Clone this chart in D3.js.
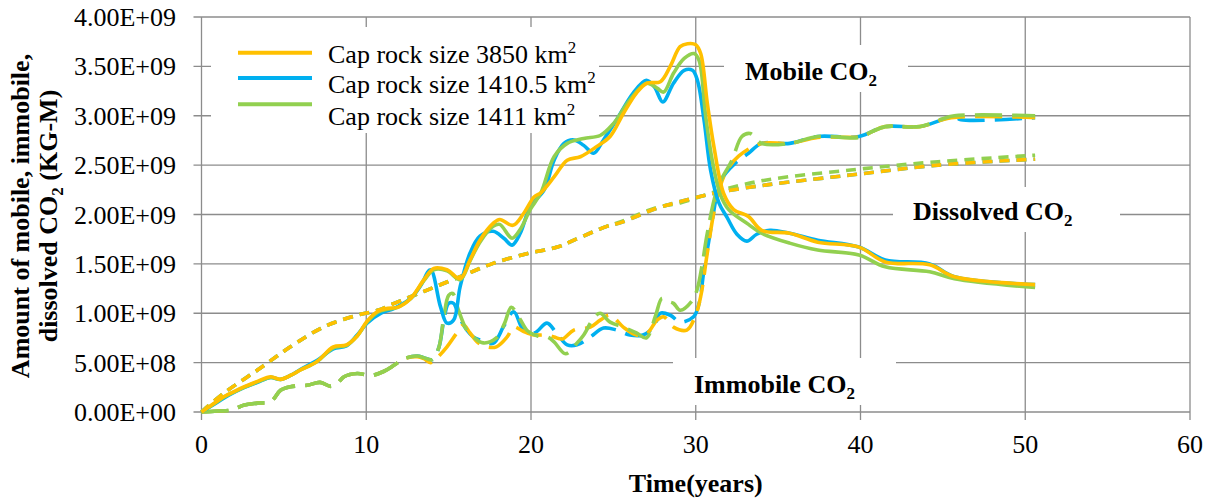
<!DOCTYPE html>
<html>
<head>
<meta charset="utf-8">
<script src="https://cdn.jsdelivr.net/npm/d3@7"></script>
<style>
  html, body { margin: 0; padding: 0; background: #fff; }
  svg { display: block; font-family: "Liberation Serif", "Times New Roman", serif; }
</style>
</head>
<body>
<svg id="chart" width="1214" height="501"></svg>
<script>
// ---- data: [time in years, amount in 1e9 KG-M] ----
const xTickValues = [0, 10, 20, 30, 40, 50, 60];
const yTickValues = [0, 0.5, 1, 1.5, 2, 2.5, 3, 3.5, 4];
const seriesLabels = ["Cap rock size 3850 km", "Cap rock size 1410.5 km", "Cap rock size 1411 km"];
const seriesColors = ["#FFC000", "#00B0F0", "#92D050"];

const mobile3850 = [[0,0],[0.7,0.08],[1.35,0.155],[2,0.21],[2.6,0.256],[3.4,0.31],[4.2,0.357],[4.8,0.33],[5.4,0.37],[6,0.425],[7,0.51],[8,0.66],[8.8,0.68],[9.45,0.77],[10.05,0.92],[10.7,1.02],[11.3,1.05],[11.9,1.06],[12.7,1.15],[13.5,1.34],[14.1,1.455],[14.9,1.44],[15.7,1.35],[16.3,1.54],[16.9,1.74],[17.7,1.91],[18.1,1.95],[18.9,1.89],[19.55,2.01],[20.2,2.18],[20.6,2.22],[21.4,2.38],[22.2,2.55],[23,2.585],[24,2.69],[24.8,2.79],[25.6,3.02],[26.4,3.23],[27.05,3.33],[27.85,3.345],[28.45,3.5],[29.05,3.7],[29.5,3.73],[30,3.72],[30.3,3.63],[30.7,3.13],[31.1,2.69],[31.7,2.21],[32.3,2.05],[33.2,1.98],[34,1.84],[35.7,1.81],[37.4,1.72],[39.9,1.67],[41.5,1.52],[44.2,1.49],[45.7,1.37],[50.6,1.29]];
const mobile1410 = [[0,0],[0.7,0.07],[1.35,0.14],[2,0.2],[2.6,0.25],[3.4,0.3],[4.2,0.35],[4.8,0.33],[5.4,0.37],[6,0.43],[7,0.52],[8,0.64],[8.8,0.67],[9.45,0.78],[10.05,0.9],[10.9,1.0],[11.7,1.05],[12.7,1.15],[13.3,1.28],[13.9,1.44],[14.5,1.07],[14.9,0.9],[15.3,0.93],[15.7,1.27],[16.3,1.61],[16.9,1.78],[17.7,1.83],[18.35,1.76],[18.85,1.69],[19.35,1.81],[19.95,2.08],[20.8,2.25],[21.4,2.55],[22,2.72],[22.6,2.755],[23.2,2.7],[23.8,2.62],[24.4,2.755],[25.2,2.96],[26.2,3.23],[27,3.36],[27.5,3.29],[28,3.14],[28.65,3.33],[29.3,3.46],[29.8,3.46],[30.1,3.36],[30.5,2.96],[30.9,2.45],[31.4,2.12],[31.9,1.97],[32.5,1.8],[33.1,1.73],[33.7,1.8],[34.5,1.84],[35.7,1.81],[37.4,1.74],[39.9,1.67],[41.5,1.54],[44.2,1.5],[45.7,1.37],[50.6,1.29]];
const mobile1411 = [[0,0],[0.7,0.075],[1.35,0.15],[2,0.205],[2.6,0.25],[3.4,0.305],[4.2,0.35],[4.8,0.33],[5.4,0.37],[6,0.425],[7,0.51],[8,0.65],[8.8,0.675],[9.45,0.77],[10.05,0.91],[10.7,1.01],[11.3,1.04],[11.9,1.06],[12.7,1.15],[13.5,1.33],[14.1,1.44],[14.9,1.43],[15.7,1.34],[16.3,1.53],[16.9,1.72],[17.7,1.88],[18.1,1.9],[18.85,1.76],[19.35,1.85],[19.95,2.05],[20.6,2.22],[21.4,2.585],[22.2,2.72],[23.2,2.77],[24.2,2.8],[25,2.92],[26,3.16],[27,3.33],[27.65,3.28],[28.05,3.24],[28.65,3.43],[29.3,3.58],[29.9,3.63],[30.2,3.56],[30.6,3.0],[31,2.55],[31.5,2.2],[32,2.05],[33.2,1.9],[34,1.81],[35.7,1.71],[37.4,1.64],[39.9,1.59],[41.5,1.47],[44.2,1.42],[45.7,1.35],[50.6,1.26]];

const immobile3850 = [[0,0],[1,0.01],[1.8,0.02],[2.6,0.07],[3.4,0.09],[4.2,0.105],[4.8,0.22],[5.4,0.256],[6.4,0.27],[7.2,0.3],[7.85,0.26],[8.25,0.29],[8.65,0.357],[9.45,0.39],[10.3,0.37],[11.05,0.41],[11.7,0.475],[12.3,0.54],[13.1,0.56],[13.5,0.54],[13.9,0.5],[14.3,0.55],[14.9,0.66],[15.5,0.8],[15.9,0.88],[16.3,0.8],[16.8,0.7],[17.3,0.66],[17.9,0.66],[18.55,0.76],[18.95,0.86],[19.5,0.82],[20.2,0.78],[21,0.78],[21.4,0.76],[21.9,0.74],[22.6,0.83],[23.6,0.86],[24.2,0.93],[24.8,0.98],[25.6,0.86],[26.4,0.78],[27,0.79],[27.65,0.93],[28.05,0.965],[28.65,0.86],[29.46,0.83],[29.96,0.965],[30.3,1.17],[30.7,1.61],[31.2,2.1],[31.8,2.42],[32.6,2.59],[34,2.72],[35.7,2.72],[37.4,2.78],[40.1,2.79],[40.7,2.84],[41.5,2.89],[43.6,2.89],[45.5,2.98],[50.6,2.98]];
const immobile1410 = [[0,0],[1,0.01],[1.8,0.02],[2.6,0.07],[3.4,0.09],[4.2,0.105],[4.8,0.22],[5.4,0.256],[6.4,0.27],[7.2,0.3],[7.85,0.26],[8.25,0.29],[8.65,0.357],[9.45,0.39],[10.3,0.37],[11.05,0.41],[11.7,0.475],[12.3,0.54],[13.1,0.567],[13.5,0.55],[14,0.53],[14.4,0.65],[14.7,0.92],[15,1.1],[15.3,1.1],[15.6,0.98],[16.1,0.83],[16.5,0.76],[16.9,0.73],[17.7,0.695],[18.35,0.87],[18.95,1.015],[19.55,0.83],[20.2,0.8],[20.97,0.9],[21.5,0.81],[22.2,0.68],[22.8,0.68],[23.6,0.76],[24.4,0.85],[25.2,0.83],[26,0.78],[26.8,0.78],[27.45,0.86],[27.85,1.0],[28.46,0.98],[29.06,0.91],[29.87,0.965],[30.2,1.1],[30.5,1.44],[30.8,1.74],[31,1.94],[31.55,2.35],[32.4,2.52],[33.2,2.62],[34,2.72],[35.7,2.72],[37.4,2.79],[39.9,2.79],[41.5,2.89],[43.6,2.89],[45.7,2.99],[46.1,2.96],[50.6,2.98]];
const immobile1411 = [[0,0],[1,0.01],[1.8,0.02],[2.6,0.07],[3.4,0.09],[4.2,0.105],[4.8,0.22],[5.4,0.256],[6.4,0.27],[7.2,0.3],[7.85,0.26],[8.25,0.29],[8.65,0.357],[9.45,0.39],[10.3,0.37],[11.05,0.41],[11.7,0.475],[12.3,0.54],[13.1,0.567],[13.5,0.55],[14,0.53],[14.4,0.65],[14.7,0.95],[15,1.18],[15.25,1.2],[15.6,1.03],[16.1,0.83],[16.5,0.76],[17.1,0.7],[17.9,0.75],[18.4,0.9],[18.8,1.06],[19.3,0.95],[19.8,0.82],[20.4,0.77],[21,0.76],[21.4,0.71],[22.1,0.59],[22.8,0.7],[23.2,0.78],[23.8,0.95],[24.2,1.0],[24.8,0.91],[25.6,0.86],[26.4,0.8],[27,0.75],[27.55,0.97],[27.95,1.15],[28.3,1.12],[28.65,1.1],[29.05,1.03],[29.8,1.13],[30.1,1.25],[30.4,1.5],[30.7,1.81],[31.35,2.28],[32.2,2.55],[32.8,2.79],[33.3,2.82],[34,2.72],[35.7,2.72],[37.4,2.79],[39.9,2.78],[40.7,2.84],[41.5,2.89],[43.6,2.89],[45,2.97],[45.7,3.0],[50.6,3.0]];

const dissolved3850 = [[0,0],[1.35,0.19],[3.4,0.425],[5.4,0.66],[7.4,0.86],[9.45,0.98],[10.7,1.03],[11.7,1.1],[13.7,1.235],[15.7,1.37],[17.7,1.505],[19.8,1.605],[21.6,1.67],[22.6,1.74],[24.6,1.88],[25.5,1.92],[27.6,2.06],[29.7,2.16],[31.6,2.23],[34.3,2.3],[39.4,2.4],[44.7,2.5],[50.6,2.56]];
const dissolved1410 = [[0,0],[1.35,0.19],[3.4,0.425],[5.4,0.66],[7.4,0.86],[9.45,0.98],[10.7,1.03],[11.7,1.1],[13.7,1.235],[15.7,1.37],[17.7,1.505],[19.8,1.605],[21.6,1.67],[22.6,1.74],[24.6,1.88],[25.5,1.92],[27.6,2.06],[29.7,2.16],[31.6,2.23],[34.3,2.3],[39.4,2.4],[44.7,2.5],[50.6,2.56]];
const dissolved1411 = [[0,0],[1.35,0.19],[3.4,0.425],[5.4,0.66],[7.4,0.86],[9.45,0.98],[10.7,1.03],[11.7,1.1],[13.7,1.235],[15.7,1.37],[17.7,1.505],[19.8,1.605],[21.6,1.67],[22.6,1.74],[24.6,1.88],[25.5,1.93],[27.6,2.07],[29.1,2.12],[31.6,2.25],[34.3,2.35],[39.4,2.45],[44.7,2.535],[50.6,2.6]];

// ---- layout ----
const svg = d3.select("#chart");
const x = d3.scaleLinear().domain([0, 60]).range([201.5, 1190]);
const y = d3.scaleLinear().domain([0, 4]).range([412, 17]);
const gridColor = "#8c8c8c";
const FONT = 26;

function expLabel(v) {
  return (v * 1e9).toExponential(2).replace(/e([+-])(\d+)/, (m, s, d) => "E" + s + d.padStart(2, "0"));
}

// gridlines with outside tick marks
const gGrid = svg.append("g").attr("stroke", gridColor).attr("stroke-width", 1.3);
gGrid.selectAll("line.h").data(yTickValues).join("line")
  .attr("class", "h")
  .attr("x1", x(0) - 8).attr("x2", x(60))
  .attr("y1", d => y(d)).attr("y2", d => y(d));
gGrid.selectAll("line.v").data(xTickValues).join("line")
  .attr("class", "v")
  .attr("x1", d => x(d)).attr("x2", d => x(d))
  .attr("y1", y(4)).attr("y2", y(0) + 8);

// white boxes behind the legend and the annotations
const boxes = [
  [211, 27, 388, 106],
  [724, 45, 184, 47],
  [893, 187, 227, 45],
  [673, 358, 223, 47]
];
svg.append("g").selectAll("rect").data(boxes).join("rect")
  .attr("x", d => d[0]).attr("y", d => d[1])
  .attr("width", d => d[2]).attr("height", d => d[3])
  .attr("fill", "#fff");

// axis tick labels
svg.append("g").selectAll("text").data(yTickValues).join("text")
  .attr("x", 176).attr("y", d => y(d) + 9)
  .attr("text-anchor", "end").attr("font-size", FONT).attr("fill", "#000")
  .text(expLabel);
svg.append("g").selectAll("text").data(xTickValues).join("text")
  .attr("x", d => x(d)).attr("y", 453)
  .attr("text-anchor", "middle").attr("font-size", FONT).attr("fill", "#000")
  .text(d => d);

// axis titles
svg.append("text")
  .attr("x", (x(0) + x(60)) / 2).attr("y", 492)
  .attr("text-anchor", "middle").attr("font-size", FONT).attr("font-weight", "bold")
  .text("Time(years)");
svg.append("text")
  .attr("transform", "translate(29,216) rotate(-90)")
  .attr("text-anchor", "middle").attr("font-size", FONT).attr("font-weight", "bold")
  .text("Amount of mobile, immobile,");
const yt2 = svg.append("text")
  .attr("transform", "translate(57,216) rotate(-90)")
  .attr("text-anchor", "middle").attr("font-size", FONT).attr("font-weight", "bold");
yt2.append("tspan").text("dissolved CO");
yt2.append("tspan").attr("font-size", 17).attr("dy", 6).text("2");
yt2.append("tspan").attr("dy", -6).text(" (KG-M)");

// series
const line = d3.line()
  .x(d => x(d[0])).y(d => y(d[1]))
  .curve(d3.curveCatmullRom.alpha(0.5));

const layers = [
  { data: dissolved1410, color: seriesColors[1], dash: "10,7" },
  { data: dissolved1411, color: seriesColors[2], dash: "10,7" },
  { data: dissolved3850, color: seriesColors[0], dash: "10,7" },
  { data: immobile1410, color: seriesColors[1], dash: "27,10" },
  { data: immobile3850, color: seriesColors[0], dash: "27,10" },
  { data: immobile1411, color: seriesColors[2], dash: "27,10" },
  { data: mobile1410, color: seriesColors[1], dash: null },
  { data: mobile1411, color: seriesColors[2], dash: null },
  { data: mobile3850, color: seriesColors[0], dash: null }
];
svg.append("g").selectAll("path").data(layers).join("path")
  .attr("d", d => line(d.data))
  .attr("fill", "none")
  .attr("stroke", d => d.color)
  .attr("stroke-width", 3.6)
  .attr("stroke-linejoin", "round")
  .attr("stroke-dasharray", d => d.dash);

// legend
const legendLineY = [52.7, 78, 104.3];
const legendTextY = [62.5, 93, 124.5];
const gLeg = svg.append("g");
seriesLabels.forEach((lab, i) => {
  gLeg.append("line")
    .attr("x1", 238).attr("x2", 312)
    .attr("y1", legendLineY[i]).attr("y2", legendLineY[i])
    .attr("stroke", seriesColors[i]).attr("stroke-width", 4);
  const t = gLeg.append("text").attr("x", 328).attr("y", legendTextY[i])
    .attr("font-size", FONT).attr("fill", "#000");
  t.append("tspan").text(lab);
  t.append("tspan").attr("font-size", 17).attr("dy", -10).text("2");
});

// annotations
const notes = [
  { name: "Mobile CO", x: 745, y: 80 },
  { name: "Dissolved CO", x: 913, y: 220 },
  { name: "Immobile CO", x: 694, y: 393 }
];
notes.forEach(n => {
  const t = svg.append("text").attr("x", n.x).attr("y", n.y)
    .attr("font-size", FONT).attr("font-weight", "bold").attr("fill", "#000");
  t.append("tspan").text(n.name);
  t.append("tspan").attr("font-size", 17).attr("dy", 6).text("2");
});
</script>
</body>
</html>
